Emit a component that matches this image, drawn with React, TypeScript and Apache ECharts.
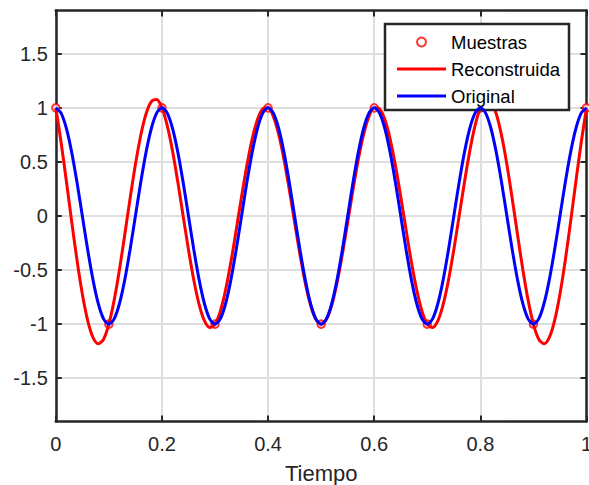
import React, { useEffect, useRef } from "react";
import * as echarts from "echarts";

// Time axis (s)
const time = [
  0, 0.01, 0.02, 0.03, 0.04, 0.05, 0.06, 0.07, 0.08, 0.09,
  0.1, 0.11, 0.12, 0.13, 0.14, 0.15, 0.16, 0.17, 0.18, 0.19,
  0.2, 0.21, 0.22, 0.23, 0.24, 0.25, 0.26, 0.27, 0.28, 0.29,
  0.3, 0.31, 0.32, 0.33, 0.34, 0.35, 0.36, 0.37, 0.38, 0.39,
  0.4, 0.41, 0.42, 0.43, 0.44, 0.45, 0.46, 0.47, 0.48, 0.49,
  0.5, 0.51, 0.52, 0.53, 0.54, 0.55, 0.56, 0.57, 0.58, 0.59,
  0.6, 0.61, 0.62, 0.63, 0.64, 0.65, 0.66, 0.67, 0.68, 0.69,
  0.7, 0.71, 0.72, 0.73, 0.74, 0.75, 0.76, 0.77, 0.78, 0.79,
  0.8, 0.81, 0.82, 0.83, 0.84, 0.85, 0.86, 0.87, 0.88, 0.89,
  0.9, 0.91, 0.92, 0.93, 0.94, 0.95, 0.96, 0.97, 0.98, 0.99,
  1,
];

// Original signal values (blue)
const original = [
  1, 0.951, 0.809, 0.588, 0.309, 0, -0.309, -0.588, -0.809, -0.951,
  -1, -0.951, -0.809, -0.588, -0.309, 0, 0.309, 0.588, 0.809, 0.951,
  1, 0.951, 0.809, 0.588, 0.309, 0, -0.309, -0.588, -0.809, -0.951,
  -1, -0.951, -0.809, -0.588, -0.309, 0, 0.309, 0.588, 0.809, 0.951,
  1, 0.951, 0.809, 0.588, 0.309, 0, -0.309, -0.588, -0.809, -0.951,
  -1, -0.951, -0.809, -0.588, -0.309, 0, 0.309, 0.588, 0.809, 0.951,
  1, 0.951, 0.809, 0.588, 0.309, 0, -0.309, -0.588, -0.809, -0.951,
  -1, -0.951, -0.809, -0.588, -0.309, 0, 0.309, 0.588, 0.809, 0.951,
  1, 0.951, 0.809, 0.588, 0.309, 0, -0.309, -0.588, -0.809, -0.951,
  -1, -0.951, -0.809, -0.588, -0.309, 0, 0.309, 0.588, 0.809, 0.951,
  1,
];

// Reconstructed signal values (red)
const reconstructed = [
  1, 0.679, 0.319, -0.054, -0.41, -0.721, -0.965, -1.122, -1.181, -1.139,
  -1, -0.778, -0.494, -0.171, 0.162, 0.476, 0.744, 0.943, 1.057, 1.076,
  1, 0.836, 0.6, 0.312, -0.001, -0.311, -0.591, -0.816, -0.967, -1.03,
  -1, -0.88, -0.682, -0.424, -0.128, 0.178, 0.466, 0.712, 0.892, 0.991,
  1, 0.919, 0.754, 0.522, 0.243, -0.058, -0.353, -0.616, -0.823, -0.955,
  -1, -0.955, -0.823, -0.616, -0.353, -0.058, 0.243, 0.522, 0.754, 0.919,
  1, 0.991, 0.892, 0.712, 0.466, 0.178, -0.128, -0.424, -0.682, -0.88,
  -1, -1.03, -0.967, -0.816, -0.591, -0.311, -0.001, 0.312, 0.6, 0.836,
  1, 1.076, 1.057, 0.943, 0.744, 0.476, 0.162, -0.171, -0.494, -0.778,
  -1, -1.139, -1.181, -1.122, -0.965, -0.721, -0.41, -0.054, 0.319, 0.679,
  1,
];

// Samples (red circles)
const sampleTimes = [0, 0.1, 0.2, 0.3, 0.4, 0.5, 0.6, 0.7, 0.8, 0.9, 1];
const sampleValues = [1, -1, 1, -1, 1, -1, 1, -1, 1, -1, 1];

const yTicks = [-1.5, -1, -0.5, 0, 0.5, 1, 1.5];
const seriesNames = ["Muestras", "Reconstruida", "Original"];
const xLabel = "Tiempo";

const FONT = "'Liberation Sans', Arial, Helvetica, sans-serif";
const AXIS = "#262626";
const GRID = "#dedede";
const LINE_ICON = "path://M0,0H49V3H0Z";

export default function App() {
  const ref = useRef<HTMLDivElement>(null);

  useEffect(() => {
    if (!ref.current) return;
    const chart = echarts.init(ref.current, undefined, { renderer: "svg" });

    const axisLine = { show: true, onZero: false, lineStyle: { color: AXIS, width: 2.5 } };
    const axisTick = { show: true, inside: true, length: 6, lineStyle: { color: AXIS, width: 2 } };

    chart.setOption({
      animation: false,
      backgroundColor: "#fff",
      textStyle: { fontFamily: FONT },
      grid: {
        left: 55.8,
        right: 2.5,
        top: 10.5,
        bottom: 63.5,
        containLabel: false,
        outerBoundsMode: "none",
      },
      legend: {
        orient: "vertical",
        left: 385,
        top: 24,
        padding: [7, 9, 3, 12],
        itemWidth: 49,
        itemHeight: 9,
        itemGap: 5,
        backgroundColor: "#fff",
        borderColor: AXIS,
        borderWidth: 2.5,
        symbolKeepAspect: true,
        textStyle: { fontSize: 18.5, lineHeight: 22, color: "#000", fontFamily: FONT },
        data: [
          { name: seriesNames[0], icon: "emptyCircle" },
          { name: seriesNames[1], icon: LINE_ICON },
          { name: seriesNames[2], icon: LINE_ICON },
        ],
      },
      xAxis: [
        {
          type: "value",
          min: 0,
          max: 1,
          interval: 0.2,
          position: "bottom",
          axisLine,
          axisTick,
          axisLabel: { fontSize: 20, color: AXIS, margin: 12, fontFamily: FONT },
          splitLine: { show: true, lineStyle: { color: GRID, width: 2 } },
          name: xLabel,
          nameLocation: "middle",
          nameGap: 41,
          nameTextStyle: { fontSize: 22, color: AXIS, fontFamily: FONT },
        },
        {
          type: "value",
          min: 0,
          max: 1,
          interval: 0.2,
          position: "top",
          axisLine,
          axisTick,
          axisLabel: { show: false },
          splitLine: { show: false },
        },
      ],
      yAxis: [
        {
          type: "value",
          min: -1.9,
          max: 1.9,
          position: "left",
          axisLine,
          axisTick: { ...axisTick, customValues: yTicks },
          axisLabel: { customValues: yTicks, fontSize: 20, color: AXIS, margin: 8, fontFamily: FONT },
          splitLine: { show: true, lineStyle: { color: GRID, width: 2 } },
        },
        {
          type: "value",
          min: -1.9,
          max: 1.9,
          position: "right",
          axisLine,
          axisTick: { ...axisTick, customValues: yTicks },
          axisLabel: { show: false, customValues: yTicks },
          splitLine: { show: false },
        },
      ],
      series: [
        {
          name: seriesNames[0],
          type: "scatter",
          symbol: "emptyCircle",
          symbolSize: 7.5,
          itemStyle: { color: "#ff0000" },
          data: sampleTimes.map((t, i) => [t, sampleValues[i]]),
          z: 2,
        },
        {
          name: seriesNames[1],
          type: "line",
          smooth: 0.3,
          showSymbol: false,
          symbol: "none",
          itemStyle: { color: "#ff0000" },
          lineStyle: { color: "#ff0000", width: 3 },
          data: time.map((t, i) => [t, reconstructed[i]]),
          z: 3,
        },
        {
          name: seriesNames[2],
          type: "line",
          smooth: 0.3,
          showSymbol: false,
          symbol: "none",
          itemStyle: { color: "#0000ff" },
          lineStyle: { color: "#0000ff", width: 3 },
          data: time.map((t, i) => [t, original[i]]),
          z: 4,
        },
      ],
    });

    return () => chart.dispose();
  }, []);

  return (
    <div
      ref={ref}
      style={{ position: "fixed", left: 0, top: 0, width: 589, height: 485, background: "#fff" }}
    />
  );
}
